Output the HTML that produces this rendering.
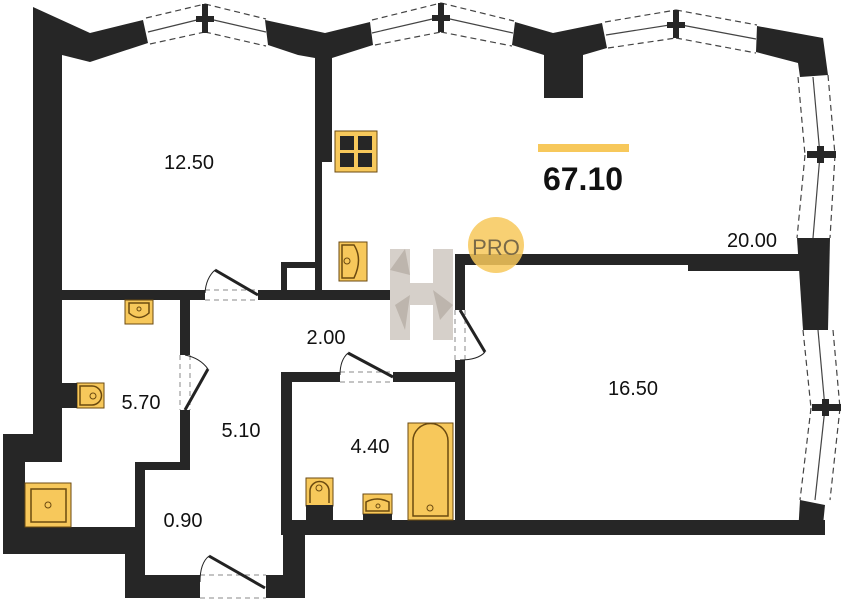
<!DOCTYPE html>
<html><head><meta charset="utf-8"><style>
html,body{margin:0;padding:0;background:#fff;}
svg{display:block;}
text{font-family:"Liberation Sans",sans-serif;fill:#111;}
</style></head><body>
<svg width="843" height="600" viewBox="0 0 843 600" xmlns="http://www.w3.org/2000/svg">
<g fill="#262626">
<polygon points="33,7 90,33 143,20 148,43 90,62 62,55 62,300 33,300"/>
<polygon points="265,20 325,33 370,22 373,45 332,58 332,162 322,162 322,290 315,290 315,58 298,55 268,45"/>
<polygon points="515,22 553,33 602,23 607,48 583,55 583,98 544,98 544,55 512,45"/>
<polygon points="757,26 823,38 828,75 800,77 798,63 756,52"/>
<polygon points="797,238 830,238 828,330 803,330"/>
<polygon points="800,500 825,505 822,535 798,535"/>
<rect x="455" y="254" width="345" height="11"/>
<rect x="688" y="254" width="112" height="17"/>
<rect x="455" y="254" width="10" height="56"/>
<rect x="455" y="360" width="10" height="175"/>
<rect x="33" y="290" width="172" height="10"/>
<rect x="258" y="290" width="132" height="10"/>
<rect x="281" y="262" width="41" height="6"/>
<rect x="281" y="262" width="6" height="30"/>
<rect x="33" y="295" width="29" height="167"/>
<polygon points="3,434 33,434 33,462 25,462 25,527 125,527 125,554 3,554"/>
<rect x="125" y="527" width="20" height="71"/>
<rect x="125" y="575" width="75" height="23"/>
<rect x="266" y="575" width="39" height="23"/>
<rect x="283" y="520" width="22" height="78"/>
<rect x="180" y="300" width="10" height="55"/>
<rect x="180" y="410" width="10" height="60"/>
<rect x="135" y="462" width="55" height="8"/>
<rect x="135" y="462" width="10" height="113"/>
<rect x="281" y="372" width="11" height="163"/>
<rect x="281" y="372" width="59" height="10"/>
<rect x="393" y="372" width="72" height="10"/>
<rect x="281" y="520" width="544" height="15"/>
</g>
<g stroke="#444" fill="none" stroke-width="1.2">
<g stroke-dasharray="6,4">
<line x1="146" y1="18" x2="205" y2="4"/><line x1="150" y1="44" x2="205" y2="32"/>
<line x1="205" y1="4" x2="266" y2="19"/><line x1="205" y1="32" x2="266" y2="46"/>
<line x1="372" y1="20" x2="441" y2="3"/><line x1="375" y1="45" x2="441" y2="32"/>
<line x1="441" y1="3" x2="514" y2="21"/><line x1="441" y1="32" x2="512" y2="46"/>
<line x1="605" y1="22" x2="676" y2="10"/><line x1="608" y1="48" x2="676" y2="38"/>
<line x1="676" y1="10" x2="757" y2="25"/><line x1="676" y1="38" x2="756" y2="53"/>
<line x1="798" y1="77" x2="805" y2="155"/><line x1="828" y1="75" x2="835" y2="155"/>
<line x1="805" y1="155" x2="797" y2="238"/><line x1="835" y1="155" x2="830" y2="238"/>
<line x1="803" y1="330" x2="811" y2="408"/><line x1="833" y1="330" x2="840" y2="408"/>
<line x1="811" y1="408" x2="800" y2="500"/><line x1="840" y1="408" x2="830" y2="500"/>
</g>
<line x1="148" y1="32" x2="205" y2="18"/><line x1="205" y1="18" x2="266" y2="32"/>
<line x1="372" y1="33" x2="441" y2="17"/><line x1="441" y1="17" x2="513" y2="33"/>
<line x1="606" y1="35" x2="676" y2="24"/><line x1="676" y1="24" x2="756" y2="39"/>
<line x1="813" y1="77" x2="820" y2="155"/><line x1="820" y1="155" x2="813" y2="238"/>
<line x1="818" y1="330" x2="825" y2="408"/><line x1="825" y1="408" x2="815" y2="500"/>
</g>
<g fill="#262626">
<rect x="202" y="4" width="6" height="29"/><rect x="196" y="16" width="18" height="6"/>
<rect x="438" y="3" width="6" height="29"/><rect x="432" y="15" width="18" height="6"/>
<rect x="673" y="10" width="6" height="28"/><rect x="667" y="22" width="18" height="6"/>
<rect x="807" y="151" width="29" height="7"/><rect x="817" y="146" width="7" height="17"/>
<rect x="812" y="404" width="29" height="7"/><rect x="822" y="399" width="7" height="17"/>
</g>
<g stroke="#222" fill="none">
<g stroke-dasharray="5,4" stroke="#888" stroke-width="1">
<line x1="205" y1="290" x2="258" y2="290"/><line x1="205" y1="300" x2="258" y2="300"/>
<line x1="180" y1="355" x2="180" y2="410"/><line x1="190" y1="355" x2="190" y2="410"/>
<line x1="340" y1="372" x2="393" y2="372"/><line x1="340" y1="382" x2="393" y2="382"/>
<line x1="455" y1="310" x2="455" y2="360"/><line x1="465" y1="310" x2="465" y2="360"/>
<line x1="200" y1="575" x2="266" y2="575"/><line x1="200" y1="598" x2="266" y2="598"/>
</g>
<g stroke-width="3"><line x1="258" y1="295" x2="215" y2="270"/><line x1="185" y1="410" x2="208" y2="369"/>
<line x1="393" y1="377" x2="348" y2="353"/><line x1="460" y1="310" x2="485" y2="352"/>
<line x1="265" y1="588" x2="209" y2="556"/></g>
<g stroke-width="1"><path d="M205,293 Q206,278 215,270"/><path d="M185,355 Q200,358 208,369"/>
<path d="M340,375 Q340,360 348,353"/><path d="M460,360 Q478,360 485,352"/><path d="M200,582 Q200,563 209,556"/></g>
</g>
<g fill="#f7c85b" stroke="#6b4a10" stroke-width="1.5">
<rect x="335" y="131" width="42" height="41" stroke-width="1"/>
<rect x="339" y="242" width="28" height="39" stroke-width="1"/>
<path d="M342,245 h12 q9,14 0,33 h-12 z" fill="none"/>
<rect x="125" y="300" width="28" height="24" stroke-width="1"/>
<path d="M129,303 v10 q10,9 20,0 v-10z" fill="none"/>
<rect x="77" y="383" width="27" height="25" stroke-width="1"/>
<path d="M80,386 h12 a9,9 0 0 1 0,19 h-12z" fill="none"/>
<rect x="25" y="483" width="46" height="44" stroke-width="1"/>
<rect x="31" y="489" width="35" height="33" fill="none"/>
<rect x="408" y="423" width="45" height="97" stroke-width="1"/>
<path d="M413,516 v-75 a17,17 0 0 1 35,0 v75z" fill="none"/>
<rect x="306" y="478" width="27" height="28" stroke-width="1"/>
<path d="M310,503 v-12 a9,9 0 0 1 19,0 v12" fill="none"/>
<rect x="363" y="494" width="29" height="20" stroke-width="1"/>
<path d="M366,511 v-9 q11,-6 23,0 v9z" fill="none"/>
</g>
<g fill="#262626"><rect x="340" y="136" width="14" height="14"/><rect x="358" y="136" width="14" height="14"/>
<rect x="340" y="153" width="14" height="14"/><rect x="358" y="153" width="14" height="14"/>
<rect x="62" y="383" width="15" height="25"/><rect x="306" y="505" width="27" height="15"/><rect x="363" y="514" width="29" height="6"/></g>
<g fill="none" stroke="#6b4a10" stroke-width="1"><circle cx="347" cy="261" r="3"/><circle cx="139" cy="309" r="2"/><circle cx="93" cy="396" r="3"/>
<circle cx="48" cy="505" r="3"/><circle cx="430" cy="508" r="3"/><circle cx="319" cy="488" r="3"/><circle cx="378" cy="506" r="2"/></g>
<g fill="#d6d0ca"><rect x="390" y="249" width="20" height="91"/><rect x="433" y="249" width="20" height="91"/><rect x="410" y="283" width="23" height="22"/></g>
<g fill="#bdb5ad"><polygon points="390,270 405,249 410,275"/><polygon points="433,290 453,305 440,320"/><polygon points="395,305 410,295 405,330"/></g>
<circle cx="496" cy="245" r="28" fill="#f7c85b" fill-opacity="0.85"/>
<text x="496" y="255" font-size="22" text-anchor="middle" style="fill:#7a6a48">PRO</text>
<rect x="538" y="144" width="91" height="8" fill="#f7c85b"/>
<text x="583" y="190" font-size="32" font-weight="bold" text-anchor="middle">67.10</text>
<g font-size="20" text-anchor="middle">
<text x="189" y="169">12.50</text>
<text x="752" y="247">20.00</text>
<text x="633" y="395">16.50</text>
<text x="326" y="344">2.00</text>
<text x="141" y="409">5.70</text>
<text x="241" y="437">5.10</text>
<text x="370" y="453">4.40</text>
<text x="183" y="527">0.90</text>
</g>
</svg>
</body></html>
